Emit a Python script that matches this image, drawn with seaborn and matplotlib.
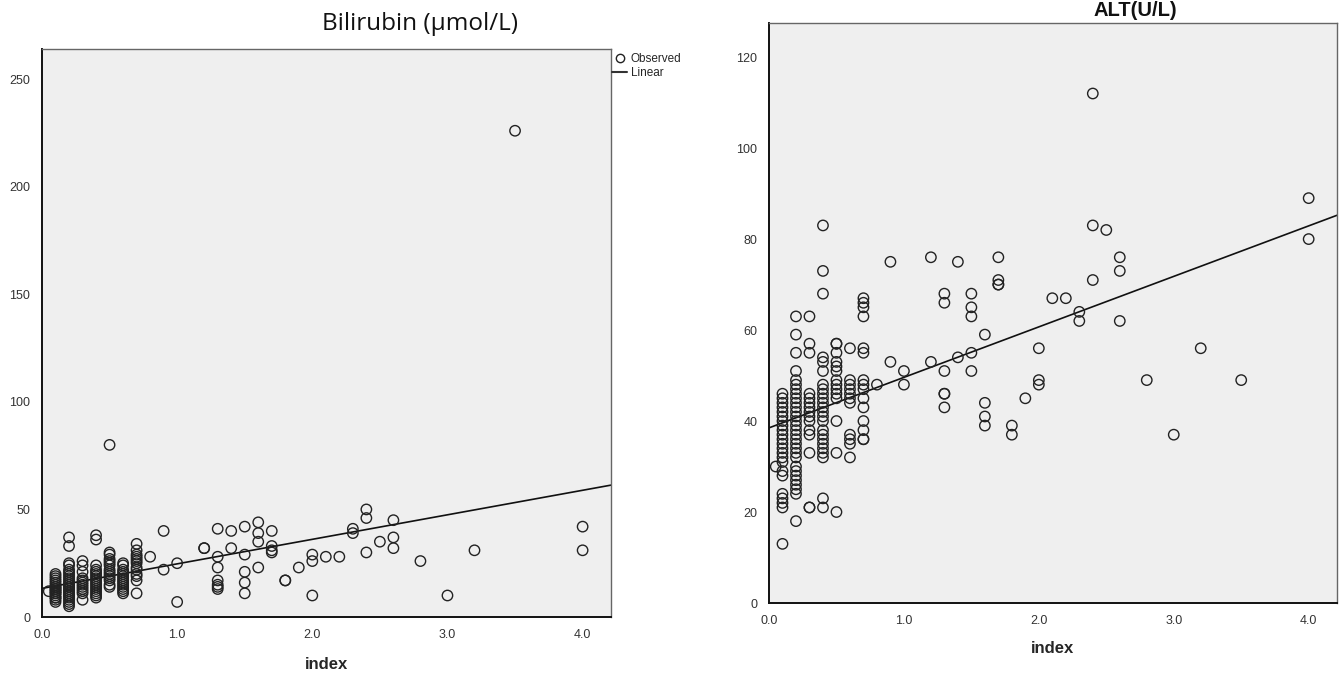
import numpy as np
import pandas as pd
import matplotlib
matplotlib.use("Agg")
import matplotlib.pyplot as plt
import seaborn as sns
from matplotlib.lines import Line2D

# Bilirubin (umol/L) observed values, grouped by index value
bili_index = [0.05, 0.1, 0.2, 0.3, 0.4, 0.5, 0.6, 0.7, 0.8, 0.9, 1.0, 1.2, 1.3, 1.4,
              1.5, 1.6, 1.7, 1.8, 1.9, 2.0, 2.1, 2.2, 2.3, 2.4, 2.5, 2.6, 2.8, 3.0,
              3.2, 3.5, 4.0]
bili_values = [
    [12],
    [20, 19, 18, 17, 16, 15, 14, 14, 13, 13, 12, 12, 11, 11, 10, 9, 9, 8, 7],
    [37, 33, 25, 24, 22, 21, 20, 19, 18, 17, 16, 15, 15, 14, 14, 13, 12, 12, 11,
     10, 10, 9, 8, 7, 6, 5],
    [26, 24, 21, 18, 17, 16, 15, 14, 13, 12, 11, 8],
    [38, 36, 24, 22, 21, 20, 19, 18, 17, 16, 15, 14, 13, 12, 11, 10, 9],
    [80, 30, 29, 27, 26, 25, 24, 22, 21, 20, 19, 18, 17, 15, 14],
    [25, 24, 22, 21, 20, 19, 18, 17, 16, 15, 14, 13, 12, 11],
    [34, 31, 29, 28, 27, 26, 25, 23, 22, 20, 19, 17, 11],
    [28],
    [40, 22],
    [25, 7],
    [32, 32],
    [41, 28, 23, 17, 15, 14, 13],
    [40, 32],
    [42, 29, 21, 16, 11],
    [44, 39, 35, 23],
    [40, 33, 31, 30],
    [17, 17],
    [23],
    [29, 26, 10],
    [28],
    [28],
    [41, 39],
    [50, 46, 30],
    [35],
    [45, 37, 32],
    [26],
    [10],
    [31],
    [226],
    [42, 31],
]
bili_fit = (13.3, 11.4)   # intercept, slope of the linear fit

# ALT (U/L) observed values, grouped by index value
alt_index = [0.05, 0.1, 0.2, 0.3, 0.4, 0.5, 0.6, 0.7, 0.8, 0.9, 1.0, 1.2, 1.3, 1.4,
             1.5, 1.6, 1.7, 1.8, 1.9, 2.0, 2.1, 2.2, 2.3, 2.4, 2.5, 2.6, 2.8, 3.0,
             3.2, 3.5, 4.0]
alt_values = [
    [30],
    [46, 45, 44, 43, 42, 41, 40, 39, 38, 37, 36, 35, 34, 33, 32, 31, 29, 28, 24,
     23, 22, 21, 13],
    [63, 59, 55, 51, 49, 48, 47, 46, 45, 44, 43, 42, 41, 40, 39, 38, 37, 36, 35,
     34, 33, 32, 30, 29, 28, 27, 26, 25, 24, 18],
    [63, 57, 55, 46, 45, 44, 43, 42, 41, 40, 38, 37, 33, 21, 21],
    [83, 73, 68, 54, 53, 51, 48, 47, 46, 45, 44, 43, 42, 41, 40, 38, 37, 36, 35,
     34, 33, 32, 23, 21],
    [57, 57, 55, 53, 52, 51, 49, 48, 47, 46, 45, 40, 33, 20],
    [56, 49, 48, 47, 46, 45, 44, 37, 36, 35, 32],
    [67, 66, 65, 63, 56, 55, 49, 48, 47, 45, 43, 40, 38, 36, 36],
    [48],
    [75, 53],
    [51, 48],
    [76, 53],
    [68, 66, 51, 46, 46, 43],
    [75, 54],
    [68, 65, 63, 55, 51],
    [59, 44, 41, 39],
    [76, 71, 70, 70],
    [39, 37],
    [45],
    [56, 49, 48],
    [67],
    [67],
    [64, 62],
    [112, 83, 71],
    [82],
    [76, 73, 62],
    [49],
    [37],
    [56],
    [49],
    [89, 80],
]
alt_fit = (38.5, 11.1)

x_ticks = [0.0, 1.0, 2.0, 3.0, 4.0]
bili_yticks = [0, 50, 100, 150, 200, 250]
alt_yticks = [0, 20, 40, 60, 80, 100, 120]

narrow = ["Liberation Sans Narrow", "Liberation Sans", "DejaVu Sans"]


def to_frame(index, values):
    rows = [(x, v) for x, vals in zip(index, values) for v in vals]
    return pd.DataFrame(rows, columns=["index", "value"])


def draw_panel(ax, df, fit, yticks, ylim):
    ax.set_facecolor("#efefef")
    sns.scatterplot(data=df, x="index", y="value", ax=ax, marker="o", s=56,
                    facecolor="none", edgecolor="#222222", linewidth=1.0,
                    legend=False, zorder=3)
    xs = np.array([0.0, 4.21])
    ax.plot(xs, fit[0] + fit[1] * xs, color="#111111", lw=1.2, zorder=2)
    ax.set_xlim(0, 4.21)
    ax.set_ylim(*ylim)
    ax.set_xticks(x_ticks)
    ax.set_xticklabels([f"{t:.1f}" for t in x_ticks])
    ax.set_yticks(yticks)
    ax.tick_params(direction="out", length=5, width=1, colors="#222222",
                   labelsize=9, labelcolor="#333333")
    for lab in ax.get_xticklabels() + ax.get_yticklabels():
        lab.set_family(narrow)
    for side in ["top", "right"]:
        ax.spines[side].set_color("#666666")
        ax.spines[side].set_linewidth(1.0)
    for side in ["left", "bottom"]:
        ax.spines[side].set_color("#111111")
        ax.spines[side].set_linewidth(1.4)
    ax.set_ylabel("")
    ax.set_xlabel("index", fontsize=12, fontweight="bold", family=narrow)


sns.set_style("white")
plt.rcParams["font.family"] = ["Liberation Sans", "DejaVu Sans"]

bili_df = to_frame(bili_index, bili_values)
alt_df = to_frame(alt_index, alt_values)

fig = plt.figure(figsize=(13.39, 6.79), dpi=100)
W, H = 1339, 679

ax1 = fig.add_axes([42 / W, (H - 617) / H, (611 - 42) / W, (617 - 49) / H])
draw_panel(ax1, bili_df, bili_fit, bili_yticks, (0, 264))
ax1.xaxis.labelpad = 12
fig.text(420 / W, 1 - 24 / H, "Bilirubin (μmol/L)", fontsize=17.5,
         family=["Open Sans", "DejaVu Sans"], ha="center", va="center",
         color="#111111")

ax2 = fig.add_axes([769 / W, (H - 603) / H, (1337 - 769) / W, (603 - 23) / H])
draw_panel(ax2, alt_df, alt_fit, alt_yticks, (0, 127.5))
ax2.xaxis.labelpad = 10
fig.text(1135 / W, 1 - 11 / H, "ALT(U/L)", fontsize=14.5, fontweight="bold",
         ha="center", va="center", color="#111111")

handles = [
    Line2D([], [], marker="o", linestyle="none", markerfacecolor="none",
           markeredgecolor="#222222", markersize=6, label="Observed"),
    Line2D([], [], color="#333333", lw=1.5, label="Linear"),
]
fig.legend(handles=handles, loc="upper left", bbox_to_anchor=(612 / W, 1 - 53 / H),
           frameon=False, fontsize=8, handlelength=1.3, handletextpad=0.3,
           labelspacing=0.15, borderaxespad=0, borderpad=0,
           prop={"family": narrow, "size": 8.5})

fig.savefig("out.png", dpi=100)
